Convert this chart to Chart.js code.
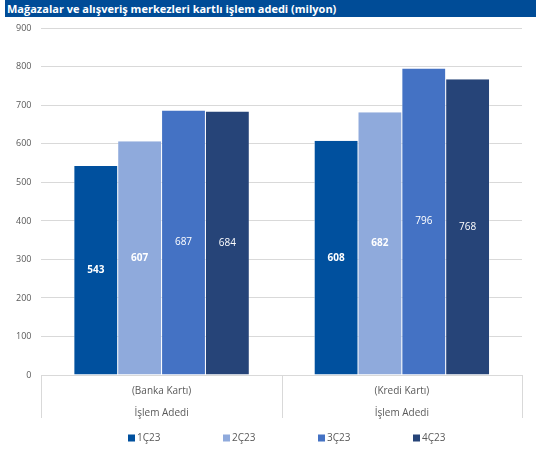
<!DOCTYPE html>
<html>
<head>
<meta charset="utf-8">
<script src="https://cdn.jsdelivr.net/npm/chart.js@4"></script>
<style>
  body { margin: 0; background: #fff; width: 536px; height: 457px; overflow: hidden; }
  #title {
    position: absolute; left: 5px; top: 0; width: 531px; height: 17px; z-index: 2;
    background: #004C97; color: #fff;
    font: bold 11px "Open Sans", sans-serif; line-height: 17px;
    padding-left: 2px; box-sizing: border-box; white-space: nowrap;
  }
  #wrap { position: absolute; left: 0; top: 13px; width: 536px; height: 444px; }
</style>
</head>
<body>
<div id="title">Mağazalar ve alışveriş merkezleri kartlı işlem adedi (milyon)</div>
<div id="wrap"><canvas id="myChart"></canvas></div>
<script>
const categories = [["(Banka Kartı)", "İşlem Adedi"], ["(Kredi Kartı)", "İşlem Adedi"]]
const seriesNames = ["1Ç23", "2Ç23", "3Ç23", "4Ç23"]
const q1 = [543, 608]
const q2 = [607, 682]
const q3 = [687, 796]
const q4 = [684, 768]
const yTicks = [0, 100, 200, 300, 400, 500, 600, 700, 800, 900]

const colors = ["#00509E", "#8FAADC", "#4472C4", "#264478"]
const boldLabels = [true, true, false, false]
const font = '"Open Sans", sans-serif'

// draw the value in the middle of each bar
const barValues = {
    id: 'barValues',
    afterDatasetsDraw(chart) {
        const ctx = chart.ctx
        chart.data.datasets.forEach((ds, i) => {
            const meta = chart.getDatasetMeta(i)
            meta.data.forEach((bar, j) => {
                const mid = (bar.y + bar.base) / 2
                ctx.save()
                ctx.fillStyle = '#fff'
                ctx.font = (boldLabels[i] ? 'bold ' : '') + '10px ' + font
                ctx.textAlign = 'center'
                ctx.textBaseline = 'middle'
                ctx.fillText(ds.data[j], bar.x, mid)
                ctx.restore()
            })
        })
    }
}

// vertical separators under the category axis, at the category edges
const catLines = {
    id: 'catLines',
    afterDraw(chart) {
        const x = chart.scales.x
        const ctx = chart.ctx
        const n = chart.data.labels.length
        const step = (x.right - x.left) / n
        ctx.save()
        ctx.strokeStyle = '#d9d9d9'
        ctx.lineWidth = 1
        for (let k = 0; k <= n; k++) {
            const px = Math.round(x.left + step * k) + 0.5
            ctx.beginPath()
            ctx.moveTo(px, x.top)
            ctx.lineTo(px, x.top + 43)
            ctx.stroke()
        }
        ctx.restore()
    }
}

// wide-spaced legend like the excel one
const wideLegend = {
    id: 'wideLegend',
    afterDraw(chart) {
        const ctx = chart.ctx
        const cx = chart.width / 2
        const y = chart.scales.x.top + 63
        ctx.save()
        ctx.font = '10px ' + font
        ctx.textBaseline = 'middle'
        chart.data.datasets.forEach((ds, i) => {
            const left = cx - 140 + 95 * i
            ctx.fillStyle = ds.backgroundColor
            ctx.fillRect(left, y - 3.5, 7, 7)
            ctx.fillStyle = '#595959'
            ctx.fillText(ds.label, left + 9, y)
        })
        ctx.restore()
    }
}

const data = [q1, q2, q3, q4]
const ctx = document.getElementById('myChart').getContext('2d')
const myChart = new Chart(ctx, {
    type: 'bar',
    data: {
        labels: categories,
        datasets: seriesNames.map((name, i) => ({
            label: name,
            data: data[i],
            backgroundColor: colors[i],
            borderColor: '#ffffff',
            borderWidth: {left: 0.5, right: 0.5, top: 0, bottom: 0},
            categoryPercentage: 0.73,
            barPercentage: 1
        }))
    },
    options: {
        responsive: true,
        maintainAspectRatio: false,
        animation: false,
        layout: { padding: { top: 0, right: 14, left: 6, bottom: 36 } },
        plugins: {
            legend: { display: false },
            tooltip: { enabled: false }
        },
        scales: {
            x: {
                grid: { display: false },
                border: { color: '#d9d9d9' },
                ticks: {
                    padding: -3, color: '#595959', autoSkip: false, maxRotation: 0,
                    font: { size: 10, family: font, lineHeight: 2.2 }
                }
            },
            y: {
                min: 0, max: 900,
                afterBuildTicks(scale) { scale.ticks = yTicks.map(v => ({ value: v })) },
                grid: { color: '#d9d9d9', drawTicks: false },
                border: { display: false },
                ticks: {
                    padding: 10, color: '#595959',
                    font: { size: 9, family: font }
                }
            }
        }
    },
    plugins: [barValues, catLines, wideLegend]
})
</script>
</body>
</html>
